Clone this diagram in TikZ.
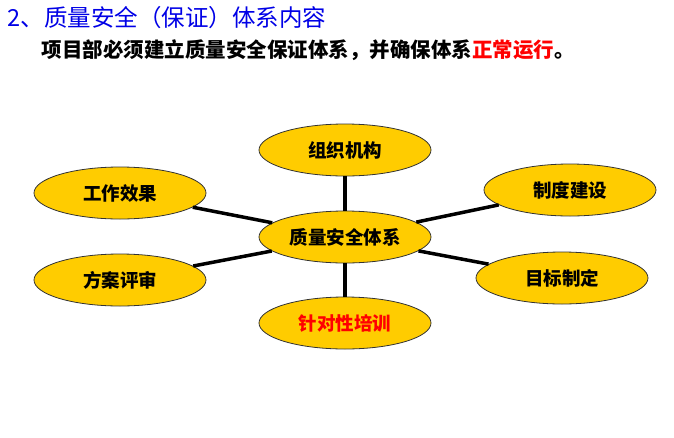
\documentclass[tikz,border=0pt]{standalone}
\usepackage{fontspec}
\setmainfont{Noto Sans CJK SC}
\newfontfamily\cjk{Noto Sans CJK SC}
\usetikzlibrary{shapes.geometric}
\begin{document}
\begin{tikzpicture}[x=1pt,y=-1pt,
  ell/.style={ellipse,draw=black!80,line width=0.8pt,fill={rgb,255:red,255;green,204;blue,0},minimum width=172pt,minimum height=52pt,font=\cjk\bfseries\fontsize{18.5}{18.5}\selectfont},
  conn/.style={line width=3.5pt,black}]
\useasboundingbox (0,0) rectangle (674,437);
\node[anchor=west,text={rgb,255:red,0;green,0;blue,230},font=\cjk\fontsize{23.5}{23.5}\selectfont] (t) at (4,18) {2、质量安全（保证）体系内容};
\node[anchor=west,font=\cjk\bfseries\fontsize{20.5}{20.5}\selectfont] (s) at (38,50) {项目部必须建立质量安全保证体系，并确保体系\textcolor{red}{正常运行}。};
\node[ell] (c) at (345,237) {质量安全体系};
\node[ell] (a) at (345,150) {组织机构};
\node[ell] (b) at (120,193) {工作效果};
\node[ell] (d) at (570,190) {制度建设};
\node[ell] (e) at (120,280) {方案评审};
\node[ell] (f) at (562,278) {目标制定};
\node[ell,text=red] (g) at (345,323) {针对性培训};
\foreach \n in {a,b,d,e,f,g} \draw[conn] (c) -- (\n);
\end{tikzpicture}
\end{document}
